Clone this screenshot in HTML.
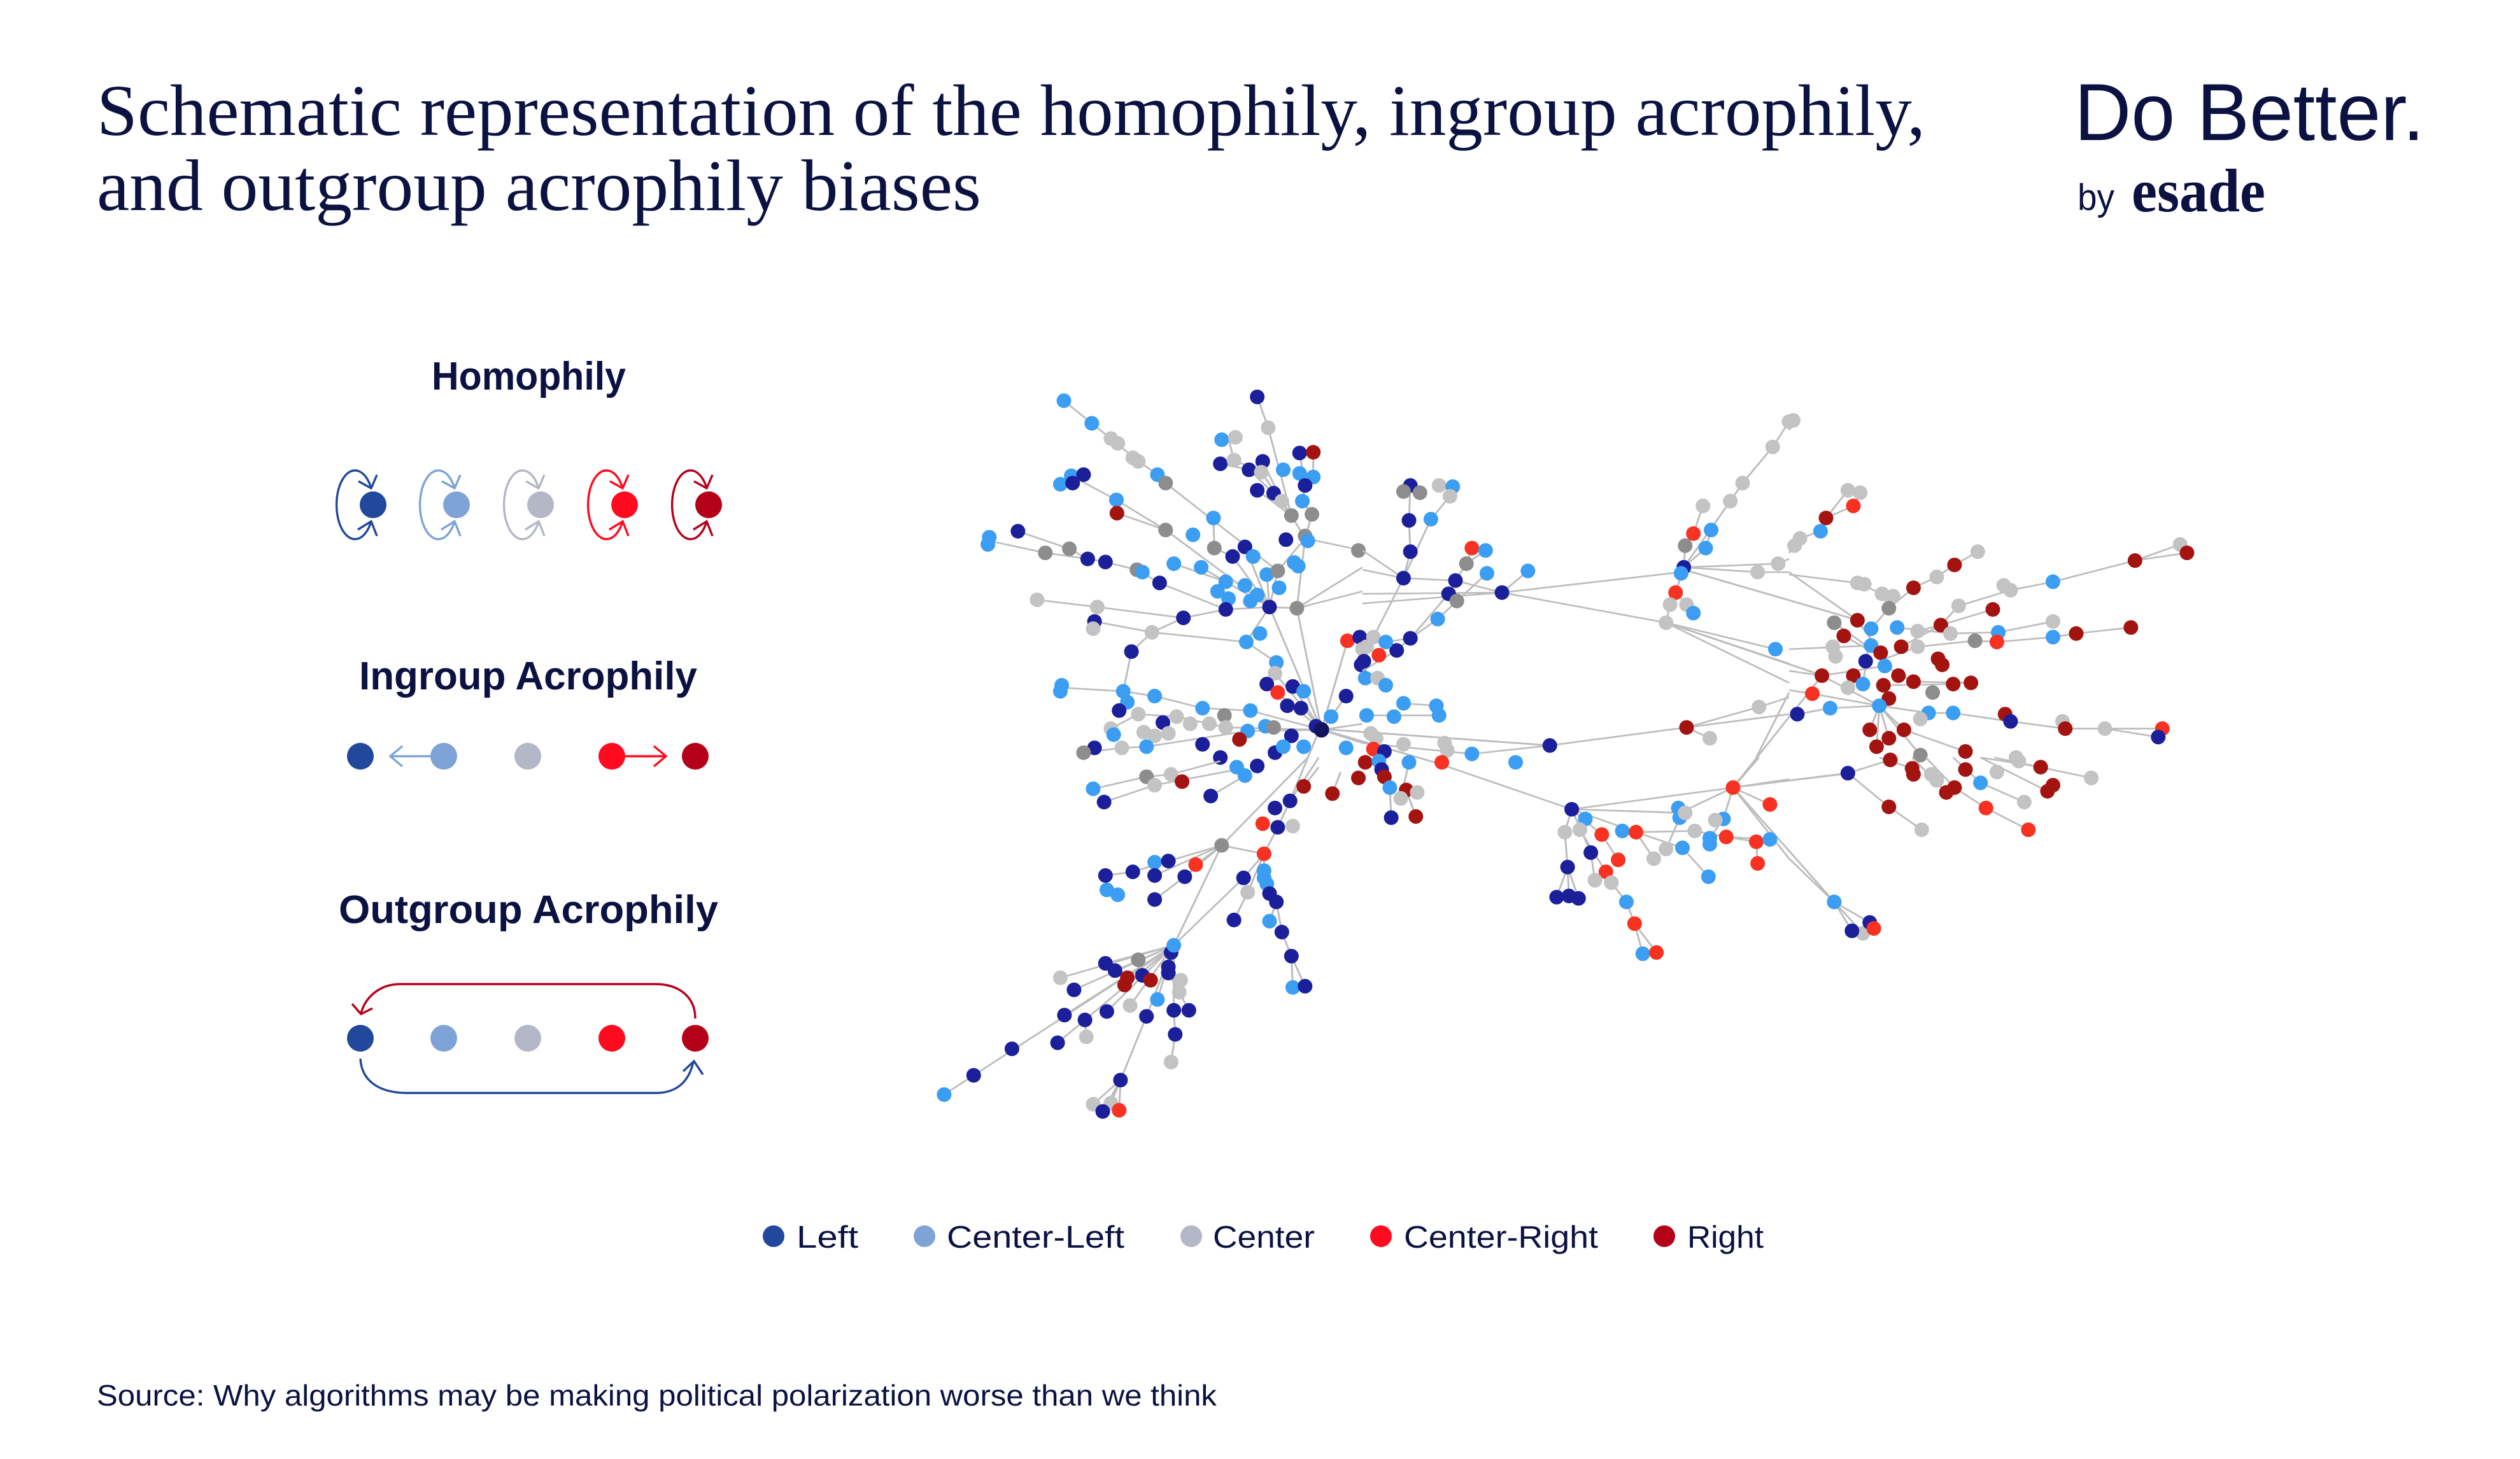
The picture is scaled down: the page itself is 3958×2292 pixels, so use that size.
<!DOCTYPE html>
<html><head><meta charset="utf-8"><style>html,body{margin:0;padding:0;background:#fff}svg{display:block}</style></head>
<body>
<svg xmlns="http://www.w3.org/2000/svg" width="3958" height="2292" viewBox="0 0 3958 2292">
<defs>
<ellipse id="N" rx="26.8" ry="30.4" fill="#1c1f9a"/>
<ellipse id="B" rx="26.8" ry="30.4" fill="#3b9ef2"/>
<ellipse id="G" rx="26.8" ry="30.4" fill="#c3c3c3"/>
<ellipse id="D" rx="26.8" ry="30.4" fill="#8d8d8d"/>
<ellipse id="R" rx="26.8" ry="30.4" fill="#f83222"/>
<ellipse id="M" rx="26.8" ry="30.4" fill="#a31411"/>
</defs>
<rect width="3958" height="2292" fill="#fff"/>

<!-- Title -->
<g fill="#0b1241" font-family="'Liberation Serif', serif" font-size="114">
<text x="152" y="212" textLength="2872" lengthAdjust="spacingAndGlyphs">Schematic representation of the homophily, ingroup acrophily,</text>
<text x="152" y="330" textLength="1389" lengthAdjust="spacingAndGlyphs">and outgroup acrophily biases</text>
</g>
<!-- Logo -->
<text x="3258" y="220" fill="#0b1241" font-family="'Liberation Sans', sans-serif" font-size="127" textLength="550" lengthAdjust="spacingAndGlyphs">Do Better.</text>
<text x="3263" y="330" fill="#0b1241" font-family="'Liberation Sans', sans-serif" font-size="58" textLength="58" lengthAdjust="spacingAndGlyphs">by</text>
<text x="3348" y="332" fill="#0b1241" font-family="'Liberation Serif', serif" font-weight="bold" font-size="96" textLength="210" lengthAdjust="spacingAndGlyphs">esade</text>

<!-- Left panel titles -->
<g fill="#0b1241" font-family="'Liberation Sans', sans-serif" font-weight="bold" font-size="62">
<text x="678" y="612" textLength="305" lengthAdjust="spacingAndGlyphs">Homophily</text>
<text x="564" y="1083" textLength="531" lengthAdjust="spacingAndGlyphs">Ingroup Acrophily</text>
<text x="532" y="1450" textLength="596" lengthAdjust="spacingAndGlyphs">Outgroup Acrophily</text>
</g>

<!-- Homophily icons -->
<g fill="none" stroke-width="3.4" stroke-linejoin="miter">
<g stroke="#22489b"><path d="M583 767A29 54 0 1 0 583 819"/><path d="M563 756L583 767L592 746"/><path d="M562 832L583 819L592 842"/></g>
<g stroke="#7fa3d6"><path d="M714 767A29 54 0 1 0 714 819"/><path d="M694 756L714 767L723 746"/><path d="M693 832L714 819L723 842"/></g>
<g stroke="#b3b7c7"><path d="M846 767A29 54 0 1 0 846 819"/><path d="M826 756L846 767L855 746"/><path d="M825 832L846 819L855 842"/></g>
<g stroke="#ff0a1e"><path d="M978 767A29 54 0 1 0 978 819"/><path d="M958 756L978 767L987 746"/><path d="M957 832L978 819L987 842"/></g>
<g stroke="#b5001a"><path d="M1110 767A29 54 0 1 0 1110 819"/><path d="M1090 756L1110 767L1119 746"/><path d="M1089 832L1110 819L1119 842"/></g>
</g>
<circle cx="586" cy="793" r="21" fill="#22489b"/>
<circle cx="717" cy="793" r="21" fill="#7fa3d6"/>
<circle cx="849" cy="793" r="21" fill="#b3b7c7"/>
<circle cx="981" cy="793" r="21" fill="#ff0a1e"/>
<circle cx="1113" cy="793" r="21" fill="#b5001a"/>

<!-- Ingroup -->
<g fill="none" stroke-width="3.4">
<path stroke="#7fa3d6" d="M677 1188L614 1188M632 1172L613 1188L632 1204"/>
<path stroke="#ff0a1e" d="M982 1188L1045 1188M1027 1172L1046 1188L1027 1204"/>
</g>
<circle cx="566" cy="1188" r="21" fill="#22489b"/>
<circle cx="697" cy="1188" r="21" fill="#7fa3d6"/>
<circle cx="829" cy="1188" r="21" fill="#b3b7c7"/>
<circle cx="961" cy="1188" r="21" fill="#ff0a1e"/>
<circle cx="1092" cy="1188" r="21" fill="#b5001a"/>

<!-- Outgroup -->
<g fill="none" stroke-width="3.4">
<path stroke="#b5001a" d="M1092 1600C1092 1565 1065 1546 1030 1546L628 1546C598 1546 574 1565 567 1592M553 1577L567 1593L585 1584"/>
<path stroke="#22489b" d="M566 1663C568 1700 598 1717 640 1717L1030 1717C1062 1717 1082 1700 1089 1668M1073 1683L1090 1667L1104 1688"/>
</g>
<circle cx="566" cy="1631" r="21" fill="#22489b"/>
<circle cx="697" cy="1631" r="21" fill="#7fa3d6"/>
<circle cx="829" cy="1631" r="21" fill="#b3b7c7"/>
<circle cx="961" cy="1631" r="21" fill="#ff0a1e"/>
<circle cx="1092" cy="1631" r="21" fill="#b5001a"/>

<!-- Network long edges -->
<g fill="none" stroke="#bdbdbd" stroke-width="2.9">
<path d="M2073 1145L2054 1190M2073 1145L2026 1258M2073 1145L2265 1201M2073 1145L2434 1171M2617 978L2862 1061M2862 1061L2722 1237M2722 1237L2902 1215M2722 1237L2881 1417M2645 895L2917 974"/>
</g>

<!-- Region A -->
<svg x="1470" y="600" width="670" height="590" viewBox="0 0 1560 1560" preserveAspectRatio="none" overflow="visible">
<g fill="none" stroke="#bdbdbd" stroke-width="7">
<path d="M468 78L570 172L650 245L730 320L810 385L840 420L1250 785M1175 62L1215 190L1300 555L1350 650M1070 235L1090 325L1190 375L1300 555M1040 340L1190 375M1145 365L1265 495L1300 555M1195 330L1265 495M1330 295L1350 430L1340 495L1375 550L1350 650M1380 292L1380 395L1350 430M1175 450L1300 555M1235 462L1300 555M1350 650L1320 940M1350 650L1560 700M1350 650L1250 785L1220 935M520 405L660 490L840 615L1220 935M662 545L840 615M195 660L400 710L555 735M300 620L488 693L555 735L620 748L735 780L818 835L1060 945M1015 565L1018 690L1085 725L1220 935M1130 685L1220 935M870 755L1060 830L1220 935M970 770L1060 830M370 905L590 935L905 980L1060 945L1220 935M580 995L790 1040L1135 1080L1245 1165L1240 1210L1410 1445M790 1040L905 980M715 1120L790 1040M715 1120L685 1285M1220 935L1320 940L1560 870M1320 940L1560 770M1220 935L1410 1445M1320 940L1410 1445M1220 935L1135 1080M460 1270L685 1285L800 1305L975 1355L1150 1365L1410 1445M640 1440L740 1380L880 1390L1060 1435L1410 1445M540 1540L680 1520L770 1515L1140 1450L1410 1445M1500 1305L1410 1445M1445 1390L1410 1445M1505 1075L1410 1445M1210 1255L1410 1445M1305 1265L1410 1445M1410 1445L1560 1500M1410 1445L1560 1420M1210 800L1220 935M1060 830L1030 870M1175 885L1220 935"/>
</g>
<use href="#B" x="468" y="78"/><use href="#B" x="570" y="172"/><use href="#G" x="640" y="235"/><use href="#G" x="665" y="255"/><use href="#G" x="720" y="315"/><use href="#G" x="740" y="330"/><use href="#B" x="810" y="385"/><use href="#D" x="840" y="420"/><use href="#N" x="1175" y="62"/><use href="#G" x="1215" y="190"/><use href="#B" x="1045" y="240"/><use href="#G" x="1095" y="230"/><use href="#N" x="1040" y="340"/><use href="#G" x="1090" y="325"/><use href="#N" x="1145" y="365"/><use href="#N" x="1195" y="330"/><use href="#G" x="1190" y="375"/><use href="#N" x="1330" y="295"/><use href="#M" x="1380" y="292"/><use href="#B" x="1270" y="365"/><use href="#B" x="1330" y="380"/><use href="#B" x="1380" y="395"/><use href="#N" x="1350" y="430"/><use href="#N" x="1175" y="450"/><use href="#N" x="1235" y="462"/><use href="#B" x="1340" y="495"/><use href="#G" x="1265" y="495"/><use href="#D" x="1300" y="555"/><use href="#D" x="1375" y="550"/>
<use href="#B" x="455" y="425"/><use href="#B" x="495" y="390"/><use href="#N" x="500" y="420"/><use href="#N" x="540" y="385"/><use href="#B" x="660" y="490"/><use href="#M" x="662" y="545"/><use href="#B" x="1015" y="565"/><use href="#D" x="840" y="615"/><use href="#B" x="940" y="635"/><use href="#B" x="195" y="645"/><use href="#B" x="190" y="675"/><use href="#N" x="300" y="620"/><use href="#D" x="400" y="710"/><use href="#D" x="488" y="693"/><use href="#N" x="555" y="735"/><use href="#N" x="620" y="748"/><use href="#D" x="735" y="780"/><use href="#B" x="755" y="790"/><use href="#N" x="818" y="835"/><use href="#B" x="870" y="755"/><use href="#B" x="970" y="770"/><use href="#D" x="1018" y="690"/><use href="#N" x="1085" y="725"/><use href="#N" x="1130" y="685"/><use href="#B" x="1160" y="725"/><use href="#N" x="1280" y="655"/><use href="#D" x="1350" y="640"/><use href="#B" x="1360" y="660"/><use href="#D" x="1545" y="700"/>
<use href="#B" x="1210" y="800"/><use href="#D" x="1250" y="785"/><use href="#B" x="1310" y="750"/><use href="#B" x="1325" y="765"/><use href="#B" x="1060" y="830"/><use href="#B" x="1130" y="845"/><use href="#B" x="1255" y="855"/><use href="#B" x="1030" y="870"/><use href="#B" x="1070" y="900"/><use href="#B" x="1175" y="885"/><use href="#B" x="1150" y="910"/><use href="#N" x="1060" y="945"/><use href="#N" x="1220" y="935"/><use href="#D" x="1320" y="940"/><use href="#G" x="370" y="905"/><use href="#G" x="590" y="935"/><use href="#N" x="580" y="995"/><use href="#G" x="575" y="1025"/><use href="#N" x="905" y="980"/><use href="#G" x="790" y="1040"/><use href="#B" x="1185" y="1045"/><use href="#B" x="1135" y="1080"/><use href="#N" x="715" y="1120"/><use href="#R" x="1505" y="1075"/><use href="#N" x="1550" y="1060"/><use href="#G" x="1560" y="1110"/><use href="#N" x="1555" y="1175"/><use href="#B" x="1245" y="1165"/><use href="#G" x="1240" y="1210"/>
<use href="#B" x="460" y="1260"/><use href="#B" x="455" y="1285"/><use href="#B" x="685" y="1285"/><use href="#B" x="700" y="1330"/><use href="#N" x="670" y="1365"/><use href="#B" x="800" y="1305"/><use href="#N" x="1210" y="1255"/><use href="#R" x="1250" y="1290"/><use href="#N" x="1305" y="1265"/><use href="#B" x="1345" y="1285"/><use href="#N" x="1285" y="1345"/><use href="#N" x="1335" y="1355"/><use href="#N" x="1500" y="1305"/><use href="#B" x="1445" y="1390"/><use href="#B" x="975" y="1355"/><use href="#D" x="1055" y="1385"/><use href="#B" x="1150" y="1365"/><use href="#G" x="740" y="1380"/><use href="#G" x="880" y="1390"/><use href="#G" x="930" y="1420"/><use href="#G" x="1000" y="1420"/><use href="#G" x="1060" y="1435"/><use href="#N" x="830" y="1415"/><use href="#G" x="640" y="1440"/><use href="#B" x="650" y="1465"/><use href="#G" x="760" y="1455"/><use href="#G" x="800" y="1470"/><use href="#G" x="850" y="1460"/><use href="#B" x="1205" y="1430"/><use href="#D" x="1235" y="1435"/><use href="#B" x="1140" y="1450"/><use href="#N" x="1390" y="1430"/><use href="#M" x="1110" y="1485"/><use href="#N" x="975" y="1505"/><use href="#N" x="1300" y="1470"/><use href="#N" x="580" y="1520"/><use href="#D" x="540" y="1540"/><use href="#G" x="680" y="1520"/><use href="#B" x="770" y="1515"/><use href="#N" x="1240" y="1540"/><use href="#B" x="1270" y="1515"/><use href="#B" x="1345" y="1515"/><use href="#B" x="1500" y="1520"/><use href="#N" x="1040" y="1560"/>
<ellipse cx="1410" cy="1445" rx="28" ry="32" fill="#12145e"/>
</svg>

<!-- Region B -->
<svg x="1470" y="1190" width="670" height="590" viewBox="0 0 1560 1560" preserveAspectRatio="none" overflow="visible">
<g fill="none" stroke="#bdbdbd" stroke-width="7">
<path d="M1360 0L1045 365L870 780M1045 365L850 430L720 475L620 490M1045 365L800 490M1045 365L910 495L800 590M1045 365L950 445M800 435L850 430M1045 365L1200 400M1200 400L1125 500L870 780M1200 400L1250 290L1295 180L1400 0M1200 400L1200 500L1220 565L1245 600L1265 725L1300 825L1305 955M1300 825L1350 950M1245 600L1220 680M1140 560L1090 675M1200 400L1140 560M620 490L625 550L665 570M615 185L800 115L1100 50M575 130L770 80L860 70L1040 15M1005 160L1130 75M870 780L30 1400M870 780L770 1075L675 1340L610 1470M675 1340L575 1440M675 1340L670 1465M675 1340L640 1435M870 780L455 915M870 780L505 965M870 780L470 1070M870 780L545 1090L550 1160M545 1090L445 1185M870 780L625 1055M870 780L620 855M870 780L655 885M870 780L870 1050L875 1150L860 1265M925 1050L890 975L850 895L870 780M870 780L700 915M870 780L810 1005M870 780L710 1030M1345 120L1400 40M1450 150L1480 60"/>
</g>
<use href="#B" x="1100" y="40"/><use href="#B" x="1130" y="75"/><use href="#N" x="1175" y="35"/><use href="#D" x="770" y="80"/><use href="#G" x="860" y="70"/><use href="#G" x="800" y="115"/><use href="#M" x="900" y="100"/><use href="#B" x="575" y="130"/><use href="#N" x="615" y="185"/><use href="#N" x="1005" y="160"/><use href="#M" x="1345" y="120"/><use href="#M" x="1450" y="150"/><use href="#M" x="1545" y="85"/><use href="#N" x="1295" y="180"/><use href="#N" x="1240" y="210"/><use href="#R" x="1195" y="275"/><use href="#N" x="1250" y="290"/><use href="#G" x="1305" y="285"/><use href="#D" x="1045" y="365"/><use href="#R" x="1200" y="400"/><use href="#B" x="800" y="435"/><use href="#N" x="850" y="430"/><use href="#R" x="950" y="445"/><use href="#N" x="620" y="490"/><use href="#N" x="720" y="475"/><use href="#N" x="800" y="490"/><use href="#N" x="910" y="495"/><use href="#B" x="625" y="550"/><use href="#B" x="665" y="570"/><use href="#N" x="800" y="590"/><use href="#N" x="1125" y="500"/><use href="#B" x="1200" y="470"/><use href="#B" x="1200" y="500"/><use href="#B" x="1210" y="525"/><use href="#G" x="1140" y="560"/><use href="#N" x="1220" y="565"/><use href="#N" x="1245" y="600"/><use href="#N" x="1090" y="675"/><use href="#B" x="1220" y="680"/><use href="#N" x="1265" y="725"/><use href="#N" x="1300" y="825"/><use href="#B" x="1305" y="955"/><use href="#N" x="1350" y="950"/>
<use href="#N" x="860" y="810"/><use href="#D" x="740" y="840"/><use href="#N" x="620" y="855"/><use href="#N" x="655" y="885"/><use href="#G" x="455" y="915"/><use href="#N" x="505" y="965"/><use href="#M" x="700" y="915"/><use href="#M" x="690" y="945"/><use href="#N" x="755" y="905"/><use href="#M" x="785" y="925"/><use href="#N" x="850" y="870"/><use href="#N" x="850" y="895"/><use href="#G" x="895" y="925"/><use href="#G" x="890" y="975"/><use href="#B" x="810" y="1005"/><use href="#G" x="710" y="1030"/><use href="#N" x="470" y="1070"/><use href="#N" x="545" y="1090"/><use href="#N" x="625" y="1055"/><use href="#N" x="770" y="1075"/><use href="#N" x="870" y="1050"/><use href="#N" x="925" y="1050"/><use href="#G" x="550" y="1160"/><use href="#N" x="445" y="1185"/><use href="#N" x="875" y="1150"/><use href="#N" x="278" y="1210"/><use href="#G" x="860" y="1265"/><use href="#N" x="138" y="1320"/><use href="#N" x="675" y="1340"/><use href="#B" x="30" y="1400"/><use href="#G" x="575" y="1440"/><use href="#G" x="640" y="1435"/><use href="#N" x="610" y="1470"/><use href="#R" x="670" y="1465"/><use href="#B" x="870" y="780"/>
</svg>

<!-- Region C -->
<svg x="2140" y="600" width="670" height="590" viewBox="0 0 1560 1560" preserveAspectRatio="none" overflow="visible">
<g fill="none" stroke="#bdbdbd" stroke-width="7">
<path d="M175 430L170 575L175 705L150 815M320 475L250 570L150 815M0 700L150 815L340 825L510 875M0 780L150 815M0 880L510 875M0 920L510 875M150 815L40 1060M400 690L380 755L340 825M450 700L380 755M455 795L345 910L275 985L175 1065L85 1080M605 785L510 875M315 880L175 1065M510 875L1165 790M510 875L1110 1000M1560 165L1500 270L1390 420L1345 495L1175 770M1245 515L1210 630L1180 680L1175 770M1275 615L1255 690L1175 770M1175 770L1145 875L1125 925L1110 1000M1185 925L1145 875M1175 770L1445 790L1560 790M1175 770L1520 755L1560 735M1110 1000L1560 1170M1110 1000L1560 1250M1110 1000L1510 1110M685 1510L1185 1435L1450 1350L1560 1310M1185 1435L1270 1480M1185 1435L1560 1380M685 1510L400 1545M0 1500L400 1545M150 1335L270 1345M15 1385L280 1385M175 1065L125 1115L0 1200M1560 1290L1440 1560"/>
</g>
<use href="#N" x="175" y="430"/><use href="#D" x="150" y="455"/><use href="#D" x="210" y="460"/><use href="#G" x="280" y="430"/><use href="#B" x="330" y="435"/><use href="#G" x="320" y="475"/><use href="#N" x="170" y="575"/><use href="#B" x="250" y="570"/><use href="#N" x="175" y="705"/><use href="#R" x="400" y="690"/><use href="#B" x="450" y="700"/><use href="#D" x="380" y="755"/><use href="#B" x="455" y="795"/><use href="#B" x="605" y="785"/><use href="#N" x="150" y="815"/><use href="#N" x="340" y="825"/><use href="#N" x="315" y="880"/><use href="#D" x="345" y="910"/><use href="#N" x="510" y="875"/><use href="#B" x="275" y="985"/><use href="#N" x="175" y="1065"/><use href="#N" x="125" y="1115"/><use href="#G" x="15" y="1100"/><use href="#G" x="40" y="1060"/><use href="#B" x="85" y="1080"/><use href="#R" x="60" y="1135"/><use href="#N" x="5" y="1160"/><use href="#B" x="10" y="1230"/><use href="#G" x="55" y="1230"/><use href="#B" x="85" y="1260"/><use href="#B" x="150" y="1335"/><use href="#B" x="270" y="1345"/><use href="#B" x="280" y="1385"/><use href="#B" x="15" y="1385"/><use href="#B" x="115" y="1390"/>
<use href="#M" x="1185" y="1435"/><use href="#G" x="1270" y="1480"/><use href="#G" x="1450" y="1350"/><use href="#N" x="685" y="1510"/><use href="#G" x="30" y="1460"/><use href="#G" x="50" y="1480"/><use href="#R" x="40" y="1525"/><use href="#N" x="80" y="1535"/><use href="#G" x="150" y="1505"/><use href="#G" x="300" y="1500"/><use href="#G" x="310" y="1530"/><use href="#B" x="400" y="1545"/><use href="#G" x="1560" y="165"/><use href="#G" x="1500" y="270"/><use href="#G" x="1390" y="420"/><use href="#G" x="1345" y="495"/><use href="#G" x="1245" y="515"/><use href="#R" x="1210" y="630"/><use href="#B" x="1275" y="615"/><use href="#D" x="1180" y="680"/><use href="#B" x="1255" y="690"/><use href="#N" x="1175" y="770"/><use href="#B" x="1165" y="795"/><use href="#R" x="1145" y="875"/><use href="#G" x="1125" y="925"/><use href="#G" x="1185" y="925"/><use href="#B" x="1210" y="960"/><use href="#G" x="1110" y="1000"/><use href="#G" x="1445" y="790"/><use href="#G" x="1520" y="755"/><use href="#B" x="1510" y="1110"/>
</svg>

<!-- Region D -->
<svg x="2140" y="1190" width="670" height="590" viewBox="0 0 1560 1560" preserveAspectRatio="none" overflow="visible">
<g fill="none" stroke="#bdbdbd" stroke-width="7">
<path d="M290 30L765 215M765 215L1355 125M765 215L1160 230L1355 125M765 215L1180 230M1355 125L1450 0M1355 125L1560 90M1355 125L1560 420M1355 125L1490 195M1355 125L1320 255L1270 335M765 215L740 310L750 455L755 575M750 455L710 580M750 455L790 585M765 215L835 395L850 510M765 215L875 320L935 425M795 300L890 475L910 520L965 600L995 690L1025 815M995 690L1075 810M765 215L1000 310L1065 420M1000 310L1170 375L1265 495M1000 310L1215 305L1330 330L1440 350L1445 440M1330 330L1490 340M100 125L105 250M160 135L195 245M70 50L100 125M170 20L140 170M1160 250L1110 380"/>
</g>
<use href="#M" x="10" y="20"/><use href="#B" x="60" y="15"/><use href="#B" x="170" y="20"/><use href="#R" x="290" y="20"/><use href="#B" x="560" y="20"/><use href="#N" x="70" y="50"/><use href="#M" x="80" y="80"/><use href="#B" x="100" y="125"/><use href="#M" x="160" y="135"/><use href="#G" x="200" y="145"/><use href="#G" x="140" y="170"/><use href="#N" x="105" y="250"/><use href="#M" x="195" y="245"/><use href="#N" x="765" y="215"/><use href="#B" x="815" y="255"/><use href="#G" x="740" y="310"/><use href="#G" x="795" y="300"/><use href="#R" x="875" y="320"/><use href="#B" x="950" y="305"/><use href="#R" x="1000" y="310"/><use href="#N" x="835" y="395"/><use href="#R" x="935" y="425"/><use href="#N" x="750" y="455"/><use href="#R" x="890" y="475"/><use href="#G" x="850" y="510"/><use href="#G" x="910" y="520"/><use href="#N" x="710" y="580"/><use href="#N" x="755" y="575"/><use href="#N" x="790" y="585"/><use href="#B" x="965" y="600"/><use href="#R" x="995" y="690"/><use href="#B" x="1025" y="815"/><use href="#R" x="1075" y="810"/><use href="#B" x="1155" y="210"/><use href="#B" x="1160" y="250"/><use href="#G" x="1180" y="230"/><use href="#R" x="1355" y="125"/><use href="#R" x="1490" y="195"/><use href="#B" x="1320" y="255"/><use href="#G" x="1290" y="260"/><use href="#G" x="1065" y="420"/><use href="#G" x="1110" y="380"/><use href="#B" x="1170" y="375"/><use href="#G" x="1215" y="305"/><use href="#B" x="1270" y="335"/><use href="#B" x="1270" y="360"/><use href="#R" x="1330" y="330"/><use href="#R" x="1440" y="350"/><use href="#B" x="1490" y="340"/><use href="#R" x="1445" y="440"/><use href="#B" x="1265" y="495"/>
</svg>

<!-- Region E -->
<svg x="2810" y="600" width="670" height="590" viewBox="0 0 1560 1560" preserveAspectRatio="none" overflow="visible">
<g fill="none" stroke="#bdbdbd" stroke-width="7">
<path d="M15 160L0 200M215 450L135 565L115 620L40 650L0 710M260 460L235 515L135 565M0 790L250 990M0 1110L300 1095M690 705L605 760L540 810L455 855L365 940L300 1025L270 1255M250 835L340 880L365 940M0 800L250 835M1455 710L1265 742L965 830L810 865L620 930L555 1010L410 1100M745 945L555 1010M555 1010L470 1035M1250 1020L1050 1045L965 1060L760 1080L680 1075L470 1100L350 1150M965 995L765 1040L590 1045L395 1020M1365 1440L1155 1440L1010 1440L810 1410L600 1375L510 1375L330 1345L150 1355L30 1380M665 1250L455 1245L350 1180M600 1255L345 1260M645 1535L420 1445L330 1345M0 1200L120 1220L350 1180M0 1280L85 1295L330 1345M320 1515L330 1345M295 1445L330 1345M1430 675L1265 742M165 1000L350 1150M250 990L350 1150M200 1055L350 1150M120 1220L330 1345M480 1550L330 1345M365 1480L330 1345M1350 1475L1155 1440"/>
</g>
<use href="#G" x="15" y="160"/><use href="#G" x="215" y="450"/><use href="#G" x="260" y="460"/><use href="#R" x="235" y="515"/><use href="#M" x="135" y="565"/><use href="#B" x="115" y="620"/><use href="#G" x="40" y="650"/><use href="#G" x="20" y="680"/><use href="#G" x="690" y="705"/><use href="#M" x="605" y="760"/><use href="#G" x="540" y="810"/><use href="#M" x="455" y="855"/><use href="#G" x="250" y="835"/><use href="#G" x="275" y="840"/><use href="#G" x="340" y="880"/><use href="#G" x="380" y="890"/><use href="#D" x="365" y="940"/><use href="#G" x="785" y="845"/><use href="#G" x="810" y="865"/><use href="#B" x="965" y="830"/><use href="#M" x="1265" y="742"/><use href="#G" x="1430" y="675"/><use href="#M" x="1455" y="710"/><use href="#G" x="620" y="930"/><use href="#M" x="745" y="945"/><use href="#M" x="555" y="1010"/><use href="#M" x="250" y="990"/><use href="#D" x="165" y="1000"/><use href="#B" x="300" y="1025"/><use href="#B" x="395" y="1020"/><use href="#G" x="470" y="1035"/><use href="#G" x="590" y="1045"/><use href="#D" x="680" y="1075"/><use href="#B" x="765" y="1040"/><use href="#R" x="760" y="1080"/><use href="#G" x="965" y="995"/><use href="#B" x="965" y="1060"/><use href="#M" x="1050" y="1045"/><use href="#M" x="1250" y="1020"/>
<use href="#M" x="200" y="1055"/><use href="#G" x="160" y="1100"/><use href="#B" x="300" y="1095"/><use href="#M" x="410" y="1100"/><use href="#M" x="335" y="1125"/><use href="#G" x="470" y="1100"/><use href="#M" x="545" y="1150"/><use href="#M" x="560" y="1175"/><use href="#N" x="280" y="1160"/><use href="#B" x="350" y="1180"/><use href="#G" x="170" y="1140"/><use href="#M" x="120" y="1220"/><use href="#M" x="235" y="1220"/><use href="#M" x="400" y="1220"/><use href="#M" x="455" y="1245"/><use href="#M" x="600" y="1255"/><use href="#M" x="665" y="1250"/><use href="#B" x="270" y="1255"/><use href="#D" x="525" y="1290"/><use href="#M" x="345" y="1260"/><use href="#M" x="365" y="1315"/><use href="#G" x="215" y="1270"/><use href="#R" x="85" y="1295"/><use href="#N" x="30" y="1380"/><use href="#B" x="150" y="1355"/><use href="#B" x="330" y="1345"/><use href="#B" x="510" y="1375"/><use href="#B" x="600" y="1375"/><use href="#G" x="480" y="1400"/><use href="#M" x="790" y="1380"/><use href="#N" x="810" y="1410"/><use href="#G" x="1000" y="1410"/><use href="#M" x="1010" y="1440"/><use href="#G" x="1155" y="1440"/><use href="#R" x="1365" y="1440"/><use href="#N" x="1350" y="1475"/><use href="#M" x="295" y="1445"/><use href="#M" x="420" y="1445"/><use href="#M" x="365" y="1480"/><use href="#M" x="320" y="1515"/><use href="#D" x="480" y="1550"/><use href="#M" x="645" y="1535"/><use href="#G" x="830" y="1560"/>
</svg>

<!-- Region F -->
<svg x="2810" y="1190" width="670" height="590" viewBox="0 0 1560 1560" preserveAspectRatio="none" overflow="visible">
<g fill="none" stroke="#bdbdbd" stroke-width="7">
<path d="M0 95L215 65L370 10M215 65L365 205L485 300M450 0L575 145M500 0L605 125L720 210L875 300M600 0L700 105L860 185M700 0L945 140M750 0L1105 85M700 0L920 40M0 420L165 600L230 720M165 600L295 685M165 600L270 730M330 0L450 45"/>
</g>
<use href="#N" x="215" y="65"/><use href="#M" x="370" y="10"/><use href="#M" x="450" y="45"/><use href="#M" x="455" y="70"/><use href="#G" x="520" y="70"/><use href="#G" x="540" y="95"/><use href="#M" x="645" y="50"/><use href="#B" x="700" y="105"/><use href="#G" x="760" y="60"/><use href="#G" x="840" y="15"/><use href="#M" x="920" y="40"/><use href="#G" x="1105" y="85"/><use href="#M" x="965" y="115"/><use href="#M" x="945" y="140"/><use href="#M" x="575" y="145"/><use href="#M" x="605" y="125"/><use href="#G" x="860" y="185"/><use href="#R" x="720" y="210"/><use href="#M" x="365" y="205"/><use href="#G" x="485" y="300"/><use href="#R" x="875" y="300"/><use href="#B" x="165" y="600"/><use href="#G" x="270" y="730"/><use href="#N" x="230" y="720"/><use href="#N" x="295" y="685"/><use href="#R" x="310" y="710"/>
</svg>

<!-- Bottom legend -->
<circle cx="1215" cy="1942" r="17" fill="#22489b"/>
<circle cx="1452" cy="1942" r="17" fill="#7fa3d6"/>
<circle cx="1871" cy="1942" r="17" fill="#b3b7c7"/>
<circle cx="2169" cy="1942" r="17" fill="#ff0a1e"/>
<circle cx="2614" cy="1942" r="17" fill="#b5001a"/>
<g fill="#0b1241" font-family="'Liberation Sans', sans-serif" font-size="49">
<text x="1251" y="1960" textLength="97" lengthAdjust="spacingAndGlyphs">Left</text>
<text x="1487" y="1960" textLength="279" lengthAdjust="spacingAndGlyphs">Center-Left</text>
<text x="1905" y="1960" textLength="160" lengthAdjust="spacingAndGlyphs">Center</text>
<text x="2205" y="1960" textLength="305" lengthAdjust="spacingAndGlyphs">Center-Right</text>
<text x="2650" y="1960" textLength="120" lengthAdjust="spacingAndGlyphs">Right</text>
</g>

<!-- Source -->
<text x="152" y="2208" fill="#0b1241" font-family="'Liberation Sans', sans-serif" font-size="46" textLength="1759" lengthAdjust="spacingAndGlyphs">Source: Why algorithms may be making political polarization worse than we think</text>
</svg>
</body></html>
